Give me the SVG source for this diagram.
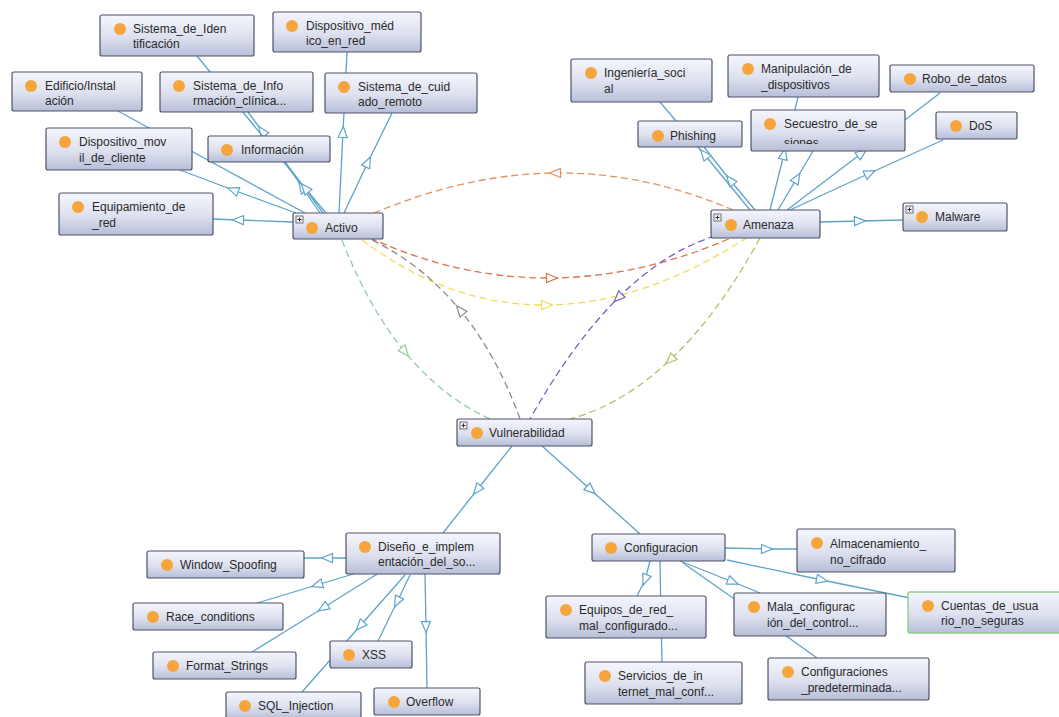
<svg xmlns="http://www.w3.org/2000/svg" width="1059" height="717" viewBox="0 0 1059 717">
<style>
.e{fill:none;stroke:#5ea3cc;stroke-width:1.3;marker-mid:url(#ab)}
.d{fill:none;stroke-width:1.3;stroke-dasharray:7,4}
.box{fill:url(#g);stroke:#4e5369;stroke-width:1.2}
.sel{fill:url(#g);stroke:#8fd08f;stroke-width:1.4}
.dot{fill:#f6a53c}
.pl{fill:#eef0f6;stroke:#555;stroke-width:0.8}
.plt{stroke:#333;stroke-width:1}
text{font-family:"Liberation Sans",Arial,sans-serif;font-size:12px;fill:#2a2a2a}
</style>
<defs>
<linearGradient id="g" x1="0" y1="0" x2="0" y2="1">
<stop offset="0" stop-color="#f5f6fc"/>
<stop offset="0.55" stop-color="#dde0ee"/>
<stop offset="1" stop-color="#b7bed8"/>
</linearGradient>
<marker id="ab" markerUnits="userSpaceOnUse" markerWidth="13" markerHeight="11" viewBox="0 0 13 11" refX="6.5" refY="5.5" orient="auto"><path d="M1,1 L12,5.5 L1,10 z" fill="#fff" stroke="#5ea3cc" stroke-width="1.2"/></marker>
<marker id="ao" markerUnits="userSpaceOnUse" markerWidth="13" markerHeight="11" viewBox="0 0 13 11" refX="6.5" refY="5.5" orient="auto"><path d="M1,1 L12,5.5 L1,10 z" fill="#fff" stroke="#e0925e" stroke-width="1.2"/></marker>
<marker id="ar" markerUnits="userSpaceOnUse" markerWidth="13" markerHeight="11" viewBox="0 0 13 11" refX="6.5" refY="5.5" orient="auto"><path d="M1,1 L12,5.5 L1,10 z" fill="#fff" stroke="#d9744c" stroke-width="1.2"/></marker>
<marker id="ay" markerUnits="userSpaceOnUse" markerWidth="13" markerHeight="11" viewBox="0 0 13 11" refX="6.5" refY="5.5" orient="auto"><path d="M1,1 L12,5.5 L1,10 z" fill="#fff" stroke="#efdc5e" stroke-width="1.2"/></marker>
<marker id="ag" markerUnits="userSpaceOnUse" markerWidth="13" markerHeight="11" viewBox="0 0 13 11" refX="6.5" refY="5.5" orient="auto"><path d="M1,1 L12,5.5 L1,10 z" fill="#fff" stroke="#8a8a8a" stroke-width="1.2"/></marker>
<marker id="ap" markerUnits="userSpaceOnUse" markerWidth="13" markerHeight="11" viewBox="0 0 13 11" refX="6.5" refY="5.5" orient="auto"><path d="M1,1 L12,5.5 L1,10 z" fill="#fff" stroke="#7460c6" stroke-width="1.2"/></marker>
<marker id="an" markerUnits="userSpaceOnUse" markerWidth="13" markerHeight="11" viewBox="0 0 13 11" refX="6.5" refY="5.5" orient="auto"><path d="M1,1 L12,5.5 L1,10 z" fill="#fff" stroke="#94cc9c" stroke-width="1.2"/></marker>
<marker id="av" markerUnits="userSpaceOnUse" markerWidth="13" markerHeight="11" viewBox="0 0 13 11" refX="6.5" refY="5.5" orient="auto"><path d="M1,1 L12,5.5 L1,10 z" fill="#fff" stroke="#b0c264" stroke-width="1.2"/></marker>
<clipPath id="clipSec"><rect x="751" y="110" width="154" height="34"/></clipPath>
</defs>
<rect width="1059" height="717" fill="#fff"/>
<g id="connectors">
<path class="e" d="M293,222 L238,220 L213,219"/>
<path class="e" d="M296,213 L233,190 L180,170"/>
<path class="e" d="M305,213 L160,134 L118,111"/>
<path class="e" d="M320,213 L302,187 L285,162"/>
<path class="e" d="M323,213 L262,131 L248,112"/>
<path class="e" d="M326,213 L305,188 L197,56"/>
<path class="e" d="M339,213 L343,132 L347,52"/>
<path class="e" d="M344,213 L368,162 L392,113"/>
<path class="e" d="M755,210 L730,180 L704,147"/>
<path class="e" d="M750,210 L704,154 L660,102"/>
<path class="e" d="M770,210 L784,154 L798,97"/>
<path class="e" d="M778,210 L797,178 L813,151"/>
<path class="e" d="M787,210 L862,153 L940,93"/>
<path class="e" d="M790,210 L870,173 L943,140"/>
<path class="e" d="M820,222 L860,221 L903,220"/>
<path class="e" d="M512,446 L477,490 L443,533"/>
<path class="e" d="M542,446 L591,490 L640,534"/>
<path class="e" d="M346,558 L327,558 L304,558"/>
<path class="e" d="M383,565 L317,585 L257,603"/>
<path class="e" d="M390,566 L323,608 L252,652"/>
<path class="e" d="M405,575 L360,626 L302,692"/>
<path class="e" d="M410,575 L397,602 L378,641"/>
<path class="e" d="M425,574 L426,627 L427,688"/>
<path class="e" d="M725,548 L767,549 L797,549"/>
<path class="e" d="M727,560 L822,580 L910,598"/>
<path class="e" d="M680,561 L733,582 L760,593"/>
<path class="e" d="M683,563 L750,610 L817,658"/>
<path class="e" d="M650,561 L645,580 L637,596"/>
<path class="e" d="M660,561 L661,620 L662,662"/>
<path class="d" stroke="#e0925e" marker-mid="url(#ao)" d="M733,210 Q645,172 555,173 Q465,174 372,214"/>
<path class="d" stroke="#d9744c" marker-mid="url(#ar)" d="M370,238 Q460,279 552,278 Q645,277 740,234"/>
<path class="d" stroke="#efdc5e" marker-mid="url(#ay)" d="M362,240 Q450,306 547,305 Q644,304 748,237"/>
<path class="d" stroke="#8a8a8a" marker-mid="url(#ag)" d="M520,419 Q497,355 460,310 Q423,265 372,240"/>
<path class="d" stroke="#7460c6" marker-mid="url(#ap)" d="M715,236 Q664,252 618,298 Q572,344 530,419"/>
<path class="d" stroke="#94cc9c" marker-mid="url(#an)" d="M342,240 Q368,307 405,352 Q442,397 490,419"/>
<path class="d" stroke="#b0c264" marker-mid="url(#av)" d="M760,238 Q718,315 670,360 Q622,405 570,419"/>
</g>
<g id="n-sistema-identificacion"><rect class="box" x="100" y="15" width="154" height="41" rx="2"/><circle class="dot" cx="120" cy="29" r="6"/><text x="133" y="33">Sistema_de_Iden</text><text x="133" y="48">tificación</text></g>
<g id="n-dispositivo-medico"><rect class="box" x="273" y="12" width="148" height="40" rx="2"/><circle class="dot" cx="292" cy="26" r="6"/><text x="306" y="30">Dispositivo_méd</text><text x="306" y="45">ico_en_red</text></g>
<g id="n-edificio"><rect class="box" x="12" y="72" width="130" height="39" rx="2"/><circle class="dot" cx="31" cy="86" r="6"/><text x="45" y="90">Edificio/Instal</text><text x="45" y="105">ación</text></g>
<g id="n-sistema-info-clinica"><rect class="box" x="160" y="72" width="153" height="40" rx="2"/><circle class="dot" cx="179" cy="86" r="6"/><text x="193" y="90">Sistema_de_Info</text><text x="193" y="105">rmación_clínica...</text></g>
<g id="n-sistema-cuidado"><rect class="box" x="325" y="73" width="152" height="40" rx="2"/><circle class="dot" cx="344" cy="87" r="6"/><text x="358" y="91">Sistema_de_cuid</text><text x="358" y="106">ado_remoto</text></g>
<g id="n-dispositivo-movil"><rect class="box" x="46" y="128" width="146" height="42" rx="2"/><circle class="dot" cx="65" cy="142" r="6"/><text x="79" y="146">Dispositivo_mov</text><text x="79" y="162">il_de_cliente</text></g>
<g id="n-informacion"><rect class="box" x="208" y="136" width="122" height="26" rx="2"/><circle class="dot" cx="227" cy="150" r="6"/><text x="241" y="154">Información</text></g>
<g id="n-equipamiento"><rect class="box" x="59" y="193" width="154" height="42" rx="2"/><circle class="dot" cx="78" cy="207" r="6"/><text x="92" y="211">Equipamiento_de</text><text x="92" y="227">_red</text></g>
<g id="n-activo"><rect class="box" x="293" y="213" width="90" height="26" rx="2"/><rect class="pl" x="296" y="216" width="7" height="7"/><path class="plt" d="M297.5,219.5 H301.5 M299.5,217.5 V221.5"/><circle class="dot" cx="312" cy="228" r="6"/><text x="325" y="232">Activo</text></g>
<g id="n-ingenieria"><rect class="box" x="571" y="59" width="141" height="43" rx="2"/><circle class="dot" cx="591" cy="73" r="6"/><text x="604" y="77">Ingeniería_soci</text><text x="604" y="93">al</text></g>
<g id="n-manipulacion"><rect class="box" x="728" y="55" width="151" height="42" rx="2"/><circle class="dot" cx="748" cy="69" r="6"/><text x="761" y="73">Manipulación_de</text><text x="761" y="89">_dispositivos</text></g>
<g id="n-robo"><rect class="box" x="890" y="65" width="144" height="27" rx="2"/><circle class="dot" cx="910" cy="79" r="6"/><text x="922" y="83">Robo_de_datos</text></g>
<g id="n-phishing"><rect class="box" x="638" y="121" width="104" height="26" rx="2"/><circle class="dot" cx="658" cy="136" r="6"/><text x="670" y="140">Phishing</text></g>
<g id="n-secuestro"><rect class="box" x="751" y="110" width="154" height="41" rx="2"/><circle class="dot" cx="770" cy="124" r="6"/><g clip-path="url(#clipSec)"><text x="784" y="128">Secuestro_de_se</text><text x="784" y="147">siones</text></g></g>
<g id="n-dos"><rect class="box" x="936" y="112" width="81" height="27" rx="2"/><circle class="dot" cx="956" cy="126" r="6"/><text x="969" y="130">DoS</text></g>
<g id="n-amenaza"><rect class="box" x="711" y="210" width="109" height="28" rx="2"/><rect class="pl" x="714" y="214" width="7" height="7"/><path class="plt" d="M715.5,217.5 H719.5 M717.5,215.5 V219.5"/><circle class="dot" cx="731" cy="225" r="6"/><text x="743" y="229">Amenaza</text></g>
<g id="n-malware"><rect class="box" x="903" y="203" width="104" height="28" rx="2"/><rect class="pl" x="906" y="206" width="7" height="7"/><path class="plt" d="M907.5,209.5 H911.5 M909.5,207.5 V211.5"/><circle class="dot" cx="922" cy="217" r="6"/><text x="935" y="221">Malware</text></g>
<g id="n-vulnerabilidad"><rect class="box" x="457" y="419" width="135" height="27" rx="2"/><rect class="pl" x="460" y="422" width="7" height="7"/><path class="plt" d="M461.5,425.5 H465.5 M463.5,423.5 V427.5"/><circle class="dot" cx="477" cy="433" r="6"/><text x="489" y="437">Vulnerabilidad</text></g>
<g id="n-diseno"><rect class="box" x="346" y="533" width="154" height="41" rx="2"/><circle class="dot" cx="365" cy="547" r="6"/><text x="378" y="551">Diseño_e_implem</text><text x="378" y="566">entación_del_so...</text></g>
<g id="n-window"><rect class="box" x="147" y="551" width="157" height="27" rx="2"/><circle class="dot" cx="167" cy="565" r="6"/><text x="180" y="569">Window_Spoofing</text></g>
<g id="n-race"><rect class="box" x="133" y="603" width="150" height="27" rx="2"/><circle class="dot" cx="153" cy="617" r="6"/><text x="166" y="621">Race_conditions</text></g>
<g id="n-format"><rect class="box" x="153" y="652" width="143" height="27" rx="2"/><circle class="dot" cx="173" cy="666" r="6"/><text x="186" y="670">Format_Strings</text></g>
<g id="n-xss"><rect class="box" x="330" y="641" width="82" height="27" rx="2"/><circle class="dot" cx="349" cy="655" r="6"/><text x="362" y="659">XSS</text></g>
<g id="n-sql"><rect class="box" x="226" y="692" width="135" height="27" rx="2"/><circle class="dot" cx="245" cy="706" r="6"/><text x="258" y="710">SQL_Injection</text></g>
<g id="n-overflow"><rect class="box" x="374" y="688" width="106" height="27" rx="2"/><circle class="dot" cx="394" cy="702" r="6"/><text x="406" y="706">Overflow</text></g>
<g id="n-configuracion"><rect class="box" x="592" y="534" width="133" height="27" rx="2"/><circle class="dot" cx="611" cy="548" r="6"/><text x="624" y="552">Configuracion</text></g>
<g id="n-almacenamiento"><rect class="box" x="797" y="529" width="158" height="43" rx="2"/><circle class="dot" cx="817" cy="543" r="6"/><text x="830" y="548">Almacenamiento_</text><text x="830" y="564">no_cifrado</text></g>
<g id="n-equipos"><rect class="box" x="546" y="596" width="160" height="42" rx="2"/><circle class="dot" cx="566" cy="610" r="6"/><text x="579" y="614">Equipos_de_red_</text><text x="579" y="630">mal_configurado...</text></g>
<g id="n-mala"><rect class="box" x="734" y="593" width="152" height="43" rx="2"/><circle class="dot" cx="754" cy="607" r="6"/><text x="767" y="611">Mala_configurac</text><text x="767" y="627">ión_del_control...</text></g>
<g id="n-cuentas"><rect class="sel" x="908" y="592" width="160" height="41" rx="2"/><circle class="dot" cx="928" cy="606" r="6"/><text x="941" y="610">Cuentas_de_usua</text><text x="941" y="625">rio_no_seguras</text></g>
<g id="n-servicios"><rect class="box" x="585" y="662" width="157" height="42" rx="2"/><circle class="dot" cx="605" cy="676" r="6"/><text x="618" y="680">Servicios_de_in</text><text x="618" y="696">ternet_mal_conf...</text></g>
<g id="n-configuraciones"><rect class="box" x="768" y="658" width="161" height="42" rx="2"/><circle class="dot" cx="788" cy="672" r="6"/><text x="801" y="676">Configuraciones</text><text x="801" y="692">_predeterminada...</text></g>
</svg>
